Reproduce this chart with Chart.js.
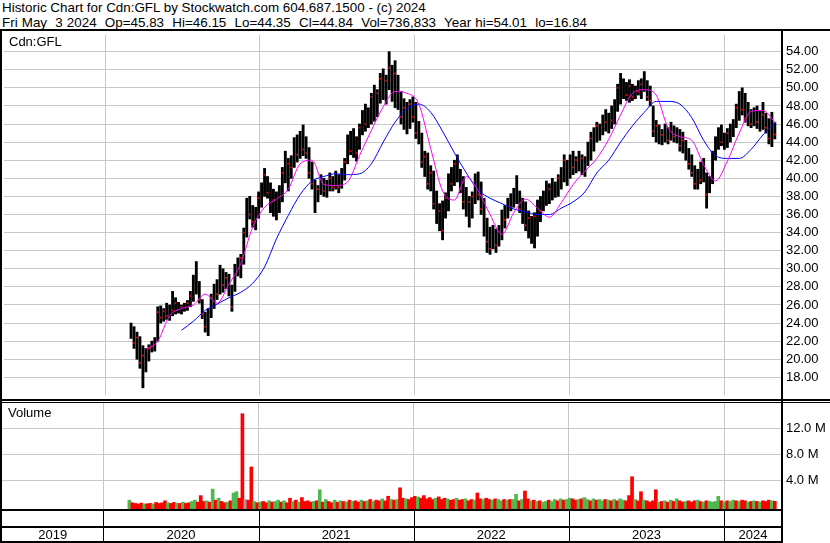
<!DOCTYPE html>
<html><head><meta charset="utf-8">
<script src="https://cdn.jsdelivr.net/npm/chart.js@4.4.1/dist/chart.umd.min.js"></script>
<style>
html,body{margin:0;padding:0;background:#fff;}
#wrap{position:relative;width:830px;height:543px;overflow:hidden;font-family:Arial,"Liberation Sans",sans-serif;}
.t{position:absolute;white-space:pre;font-size:13px;line-height:14px;color:#000;z-index:6}
.h{font-size:13.4px;line-height:15px}
.ln{position:absolute;background:#000;z-index:5}
canvas{position:absolute;left:0}
</style></head><body>
<div id="wrap">
<div class="t h" style="left:2px;top:0px">Historic Chart for Cdn:GFL by Stockwatch.com 604.687.1500 - (c) 2024</div>
<div class="t h" style="left:2px;top:15px;word-spacing:0.4px">Fri May  3 2024  Op=45.83  Hi=46.15  Lo=44.35  Cl=44.84  Vol=736,833  Year hi=54.01  lo=16.84</div>
<canvas id="pc" width="830" height="368" style="top:31px"></canvas>
<canvas id="vc" width="830" height="140" style="top:403px"></canvas>
<div class="t" style="left:9px;top:35px">Cdn:GFL</div>
<div class="t" style="left:8px;top:406px">Volume</div>
<div class="ln" style="left:0;top:29px;width:830px;height:2px"></div>
<div class="ln" style="left:0;top:399px;width:830px;height:2px"></div>
<div class="ln" style="left:0;top:402px;width:830px;height:1px"></div>
<div class="ln" style="left:0;top:29px;width:2px;height:514px"></div>
<div class="ln" style="left:781px;top:29px;width:2px;height:514px"></div>
</div>
<script>
// ---- data (weekly, from 2020-03-02) ----
const startYear = 2020.168;
const weekYears = 7 / 365.25;
const hi = [
24.0,23.6,23.0,22.5,21.5,21.2,21.6,22.0,22.4,25.8,
25.9,25.6,26.2,26.0,27.5,26.8,26.3,26.0,26.2,26.5,
27.5,29.3,30.8,28.6,26.6,25.2,25.6,27.2,28.3,28.8,
30.4,30.0,29.6,29.4,28.2,30.5,31.2,31.6,34.5,37.8,
38.0,37.0,36.8,38.5,39.5,41.1,40.2,39.5,38.8,38.5,
39.2,41.2,43.0,42.2,42.5,44.5,44.8,45.2,45.9,44.6,
43.4,41.8,39.8,39.2,40.4,40.0,39.8,40.6,40.2,40.8,
40.4,41.1,42.2,44.8,45.2,45.5,44.6,46.0,47.5,48.2,
47.8,49.4,50.3,49.8,51.6,52.1,51.4,54.0,52.5,53.0,
51.4,49.6,48.8,48.4,48.7,49.0,48.4,46.3,45.0,43.0,
42.8,41.4,40.8,38.6,37.2,37.5,38.4,40.5,41.2,42.0,
42.6,41.0,40.2,39.0,38.0,38.5,40.5,40.7,39.6,37.8,
35.6,34.6,34.8,34.4,34.8,36.5,37.0,37.8,38.3,38.9,
40.3,38.6,37.8,37.4,36.4,35.8,36.2,37.6,38.0,38.6,
39.7,39.4,40.0,39.6,40.4,41.2,42.6,42.0,42.6,43.0,
42.4,43.0,42.6,42.4,44.0,45.1,45.6,46.2,46.0,47.0,
47.6,47.2,48.0,48.7,50.4,51.6,51.0,50.6,50.9,50.4,
50.2,50.8,51.0,51.8,50.8,50.2,48.0,46.4,45.9,45.4,
46.0,45.6,46.2,45.8,45.6,45.4,45.1,44.2,43.3,42.6,
41.4,41.0,41.8,42.2,40.6,40.2,43.0,44.6,45.6,45.9,
45.0,45.5,46.0,46.5,48.2,49.6,50.0,49.4,48.4,47.6,
47.8,48.0,47.4,48.4,47.2,46.6,47.3,46.15];
const lo = [
22.3,21.2,20.0,19.0,16.84,18.6,19.8,20.8,20.9,22.0,
24.0,24.2,24.4,24.3,24.8,25.0,25.1,25.0,25.3,25.4,
25.8,26.4,27.2,26.2,24.5,23.0,22.6,24.6,25.6,26.6,
27.2,27.4,27.8,27.0,25.3,27.5,29.2,29.0,30.5,33.5,
35.5,34.6,34.3,35.6,36.8,38.0,37.8,36.2,35.8,35.4,
36.2,37.4,39.5,38.6,40.0,41.2,41.8,42.2,42.5,42.2,
40.0,38.8,36.2,37.4,38.2,38.0,37.9,38.6,38.6,38.8,
38.4,38.9,39.8,41.6,42.6,42.3,41.9,43.2,44.8,45.2,
45.6,46.0,46.3,46.8,48.3,48.7,48.2,49.8,48.5,47.8,
47.6,46.0,45.4,44.9,45.5,46.2,44.4,43.8,41.2,40.2,
38.8,38.6,36.6,35.0,34.2,33.2,35.6,36.4,38.6,39.2,
39.6,38.4,36.6,35.8,34.6,35.6,37.2,37.6,36.0,33.6,
31.8,31.6,32.2,31.8,32.5,33.2,34.5,35.6,36.4,36.8,
37.2,36.2,35.0,34.2,33.4,32.8,32.3,33.6,35.2,36.4,
37.0,37.2,37.6,37.9,38.0,38.8,39.6,39.2,40.0,40.4,
40.6,40.8,40.4,40.2,41.4,42.0,43.0,44.0,44.2,44.8,
45.2,45.0,45.5,46.0,47.4,48.2,48.8,48.6,48.4,48.6,
48.8,49.2,48.8,49.6,48.6,48.0,44.6,44.0,43.8,43.7,
44.0,43.8,44.2,44.0,43.9,43.0,42.8,42.0,41.0,40.2,
38.8,38.8,39.4,39.6,36.7,38.4,39.4,42.0,43.2,43.6,
43.2,43.4,44.0,44.6,45.6,46.4,47.0,46.2,45.8,45.6,
45.8,45.5,45.2,45.4,45.0,43.8,43.5,44.35];
const cl = [
23.2,21.8,22.4,19.6,20.4,19.2,21.2,21.4,22.0,25.2,
24.6,25.3,24.8,25.6,25.4,26.2,25.6,25.8,25.9,26.2,
27.0,28.8,27.8,26.6,25.0,23.6,25.2,26.8,28.0,27.2,
29.8,28.2,29.0,27.4,25.8,30.2,29.6,31.2,34.0,37.2,
36.0,35.2,36.4,37.8,38.2,40.4,38.4,36.8,37.6,36.0,
38.8,40.6,40.2,41.6,41.2,44.0,42.6,44.6,43.2,42.8,
40.6,39.4,37.0,38.8,39.6,38.6,39.4,40.0,39.0,40.4,
39.0,40.8,41.8,44.2,43.0,44.8,42.8,45.6,47.0,46.0,
47.2,49.0,47.0,49.4,51.0,49.6,50.8,52.2,49.2,51.6,
48.2,46.8,47.8,45.6,48.2,46.8,45.0,44.2,41.8,42.4,
39.4,40.6,37.2,35.6,36.4,34.2,37.8,39.8,39.4,41.6,
40.2,38.8,37.4,36.2,37.4,38.0,39.6,38.2,36.6,34.2,
33.0,32.2,33.8,32.6,34.2,36.0,35.4,37.2,36.8,38.4,
37.8,36.6,35.8,34.8,35.6,33.4,35.8,37.2,36.4,38.2,
37.6,38.8,38.4,39.2,40.0,39.6,42.0,40.4,41.8,41.2,
42.0,41.4,42.2,40.8,43.6,44.4,44.2,45.8,44.8,46.6,
46.2,46.8,46.4,48.2,50.0,49.0,50.6,49.2,50.2,49.0,
49.8,49.6,50.4,50.2,49.0,48.6,45.2,45.8,44.4,44.8,
45.2,44.2,45.8,44.6,45.0,43.6,44.2,42.6,41.6,40.6,
39.4,40.2,39.8,41.4,38.2,39.8,42.6,44.0,44.6,44.0,
44.6,45.0,45.6,46.0,47.8,48.6,47.6,46.6,47.8,46.0,
47.4,46.2,46.8,47.0,45.6,44.4,45.8,44.84];
// daily-volume envelope per week, millions
const vol = [
0.9,0.5,0.4,0.3,0.45,0.3,0.35,0.4,0.3,0.55,
0.4,0.5,0.8,0.5,0.4,0.55,0.45,0.4,0.6,0.4,
0.5,0.7,0.9,0.6,1.6,0.7,0.8,0.6,2.6,0.9,
1.2,0.7,0.5,0.6,0.8,2.0,2.2,1.2,14.2,1.0,
0.9,6.0,0.7,0.5,0.6,0.7,0.5,0.8,0.6,0.7,
0.9,0.6,0.8,0.5,1.2,0.7,0.9,0.6,1.3,0.7,
0.8,0.6,0.7,0.8,2.5,0.6,1.0,0.7,0.5,0.9,
0.6,0.8,0.7,0.6,0.9,0.7,0.8,0.6,0.9,0.7,
0.8,1.0,0.7,0.9,0.8,1.1,0.8,1.5,1.0,0.9,
1.0,2.8,1.2,1.1,1.0,1.3,1.5,1.4,1.2,1.6,
1.1,1.3,1.0,1.2,1.4,1.0,1.2,1.1,0.9,1.0,
1.2,0.9,1.0,1.1,0.8,1.0,0.9,2.0,1.1,1.0,
1.2,1.0,0.9,1.1,1.0,0.8,1.0,0.9,1.0,1.0,
1.8,0.8,1.0,2.3,1.1,0.8,0.9,0.7,0.8,0.6,
0.7,0.9,0.7,1.0,0.8,1.1,0.9,1.0,1.2,1.1,
0.9,1.0,1.1,1.3,1.0,0.8,1.1,0.9,1.0,0.8,
1.0,0.9,0.8,1.0,0.8,1.1,0.9,0.8,1.6,4.5,
1.0,0.8,2.2,0.9,0.8,0.6,0.8,2.5,0.6,0.7,
0.8,0.6,0.9,0.7,1.1,0.8,0.6,0.7,0.8,0.6,
0.8,0.9,0.7,0.6,0.8,0.7,0.6,0.7,1.5,0.8,
0.6,0.8,0.7,0.9,0.8,0.7,0.9,0.8,0.6,0.7,
0.8,0.7,0.6,0.8,0.7,0.9,0.8,0.74];
// u = up (green), d = down (red), n = unchanged (grey), 10 weeks per string
const volDirGroups = [
"udddduddud","ddduddudud","duudddudud","udduduuddn","ddududdudu",
"ududdududd","ddudududdu","dudududdud","ududduddud","uddudddudd",
"dddudddudd","uddudduddu","dduduududu","ududdududu","uduududuud",
"duduududuu","dududuuddd","udduddddud","udududdudd","dududuuuud",
"uduududdud","ududddud"];
const volDir = volDirGroups.join("");
// moving averages, every 4th week
const maFastStart = 5;
const maFast = [21.1,22.0,24.8,25.6,26.0,27.2,26.2,28.3,30.6,34.6,
36.8,37.7,38.8,41.6,42.0,39.3,39.2,39.6,42.5,45.3,
47.9,49.6,49.4,48.2,43.3,38.6,37.6,40.2,38.6,36.0,
33.8,36.2,37.7,36.7,35.7,37.3,39.3,40.8,42.2,44.3,
47.0,49.4,49.8,49.2,45.6,44.6,44.2,41.5,39.7,41.9,
45.0,47.4,47.5,46.2];
const maSlowStart = 17;
const maSlow = [23.2,24.2,25.4,26.1,26.8,27.4,28.4,30.2,33.3,35.9,
38.2,39.7,40.2,40.5,40.4,40.5,41.6,44.0,46.2,47.7,
48.2,47.3,45.2,42.8,40.6,38.7,37.8,37.2,36.6,36.3,
36.0,36.0,36.7,37.4,38.5,40.6,42.0,44.0,45.8,47.3,
48.5,48.5,48.2,46.7,44.2,42.5,42.2,42.2,43.2,44.8,
46.1];
const priceTicks = [18,20,22,24,26,28,30,32,34,36,38,40,42,44,46,48,50,52,54];
const volTicks = [4,8,12];
const years = [2019,2020,2021,2022,2023,2024];
const xMin = 2019.3473, xMax = 2024.373;
const priceMin = 16.05, priceMax = 55.84;
const volMin = -0.46, volMax = 15.85;

// ---- build ----
const wx = i => startYear + i * weekYears;
const grid = '#c8c8c8';
const font = {family:'Arial, "Liberation Sans", sans-serif', size:13};

const priceBars = hi.map((h,i)=>({x:wx(i), y:[lo[i],h]}));
const closeDots = [];
cl.forEach((c,i)=>{ if (volDir[i]==='d') closeDots.push({x:wx(i), y:c}); });
const fastPts = maFast.map((v,k)=>({x:wx(maFastStart+4*k), y:v}));
const slowPts = maSlow.map((v,k)=>({x:wx(maSlowStart+4*k), y:v}));
const colorOf = d => d==='u' ? '#4fb84f' : (d==='n' ? '#a0a0a0' : '#ff0000');

const xGridAxis = {
  type:'linear', min:xMin, max:xMax, offset:false,
  grid:{color:grid, lineWidth:1, drawTicks:false, offset:false},
  border:{display:false},
  ticks:{display:false},
  afterBuildTicks:s=>{ s.ticks = years.slice(1).map(v=>({value:v})); },
  afterFit:s=>{ s.height=0; s.paddingLeft=0; s.paddingRight=0; }
};
const yAxisFit = s=>{ s.width=48; s.paddingTop=0; s.paddingBottom=0; };

new Chart(document.getElementById('pc'), {
  type:'bar',
  data:{datasets:[
    {type:'line', data:fastPts, borderColor:'#ff00ff', borderWidth:1, pointRadius:0, cubicInterpolationMode:'monotone', order:1},
    {type:'line', data:slowPts, borderColor:'#0000ff', borderWidth:1, pointRadius:0, cubicInterpolationMode:'monotone', order:2},
    {type:'line', data:closeDots, showLine:false, pointStyle:'rect', pointRadius:1.2, pointBackgroundColor:'#ff0000', pointBorderWidth:0, order:3},
    {type:'bar', data:priceBars, backgroundColor:'#000', barThickness:2.2, order:4}
  ]},
  options:{
    responsive:false, animation:false, devicePixelRatio:1,
    layout:{padding:{left:2,right:0,top:0,bottom:0}},
    plugins:{legend:{display:false}, tooltip:{enabled:false}},
    scales:{
      x:xGridAxis,
      y:{type:'linear', position:'right', min:priceMin, max:priceMax,
         grid:{color:grid, lineWidth:1, drawTicks:false}, border:{display:false},
         afterBuildTicks:s=>{ s.ticks = priceTicks.map(v=>({value:v})); },
         afterFit:yAxisFit,
         ticks:{padding:4, color:'#000', font:font, callback:v=>Number(v).toFixed(2)}}
    }
  }
});

const frame = {
  id:'frame',
  afterDraw(chart){
    const {ctx, chartArea:ca} = chart;
    const xs = chart.scales.x;
    ctx.save();
    ctx.fillStyle = '#000';
    const b = ca.bottom;
    ctx.fillRect(0, b, 782, 2);
    ctx.fillRect(0, b+17, 782, 2);
    ctx.fillRect(0, chart.height-2, 782, 2);
    years.slice(1).forEach(v=>{
      const px = Math.round(xs.getPixelForValue(v));
      ctx.fillRect(px, b, 1, chart.height-b);
    });
    ctx.restore();
  }
};

new Chart(document.getElementById('vc'), {
  type:'bar',
  data:{datasets:[
    {type:'bar', data:vol.map((v,i)=>({x:wx(i), y:v})), base:volMin,
     backgroundColor:vol.map((v,i)=>colorOf(volDir[i])), barThickness:3}
  ]},
  options:{
    responsive:false, animation:false, devicePixelRatio:1,
    layout:{padding:{left:2,right:0,top:0,bottom:0}},
    plugins:{legend:{display:false}, tooltip:{enabled:false}},
    scales:{
      x:xGridAxis,
      x2:{type:'linear', position:'bottom', min:xMin, max:xMax, offset:false,
          grid:{display:false, drawTicks:false}, border:{display:false},
          afterBuildTicks:s=>{ s.ticks = years.map(y=>({value:(Math.max(y,s.min)+Math.min(y+1,s.max))/2})); },
          afterFit:s=>{ s.height=34; s.paddingLeft=0; s.paddingRight=0; },
          ticks:{autoSkip:false, maxRotation:0, padding:19, color:'#000', font:font,
                 callback:(v,i)=>String(years[i])}},
      y:{type:'linear', position:'right', min:volMin, max:volMax,
         grid:{color:grid, lineWidth:1, drawTicks:false}, border:{display:false},
         afterBuildTicks:s=>{ s.ticks = volTicks.map(v=>({value:v})); },
         afterFit:yAxisFit,
         ticks:{padding:4, color:'#000', font:font, callback:v=>Number(v).toFixed(1)+' M'}}
    }
  },
  plugins:[frame]
});
</script>
</body></html>
